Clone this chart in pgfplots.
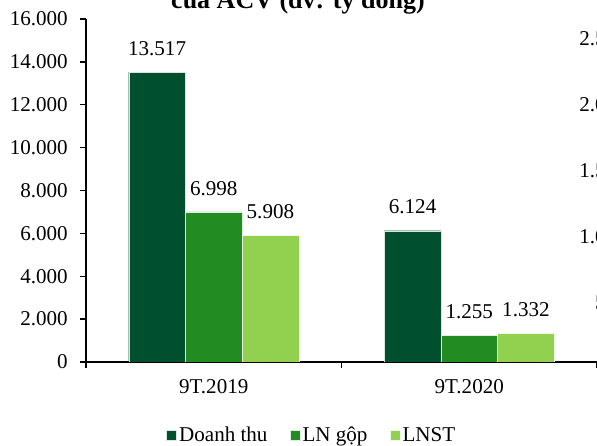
\documentclass[border=0pt]{standalone}
\usepackage{pgfplots}
\pgfplotsset{compat=1.18}
\usepackage{fontspec}
\setmainfont{Liberation Serif}
\definecolor{dt}{HTML}{00502F}
\definecolor{lng}{HTML}{228B22}
\definecolor{lnst}{HTML}{92D050}

\pgfplotsset{
  vnnum/.style={
    /pgf/number format/.cd, 1000 sep={.}, fixed, precision=0, assume math mode=true,
  },
}

\begin{document}
\fontsize{15.8}{19}\selectfont
\begin{tikzpicture}
\path[use as bounding box] (0,0) rectangle (447.75pt,334.5pt);
\clip (0,0) rectangle (447.75pt,334.5pt);

% title (second line)
\node[anchor=base, font=\fontsize{19.5}{23}\selectfont\bfseries, inner sep=0pt]
  at (223.5pt,328pt) {của ACV (đv: tỷ đồng)};

% main bar chart
\begin{axis}[
  at={(64.5pt,63pt)}, anchor=south west,
  scale only axis, width=383.25pt, height=257.25pt,
  vnnum,
  ybar=0pt, bar width=42.5pt,
  xmin=-0.5, xmax=1.5, ymin=0, ymax=16000,
  axis x line*=bottom, axis y line*=left,
  axis line style={line width=1pt},
  scaled y ticks=false,
  ytick={0,2000,...,16000},
  tick align=outside, major tick length=4.5pt,
  tick style={line width=1pt, black},
  yticklabel style={xshift=-3.7pt},
  xtick={-0.5,0.5,1.5}, xticklabels={},
  extra x ticks={0,1}, extra x tick labels={9T.2019,9T.2020},
  extra x tick style={major tick length=0pt, xticklabel style={yshift=-7.5pt}},
  nodes near coords,
  every node near coord/.append style={font=\fontsize{15.8}{19}\selectfont, text=black, yshift=7pt},
  legend columns=3,
  legend style={draw=none, at={(0.4423,-0.2157)}, anchor=center,
    /tikz/every even column/.append style={column sep=14.5pt}},
  legend image code/.code={\fill[#1] (0pt,-3.2pt) rectangle (7.5pt,4.3pt);},
]
\addplot[fill=dt, draw=white!85!dt, line width=0.3pt] coordinates {(0,13517) (1,6124)};
\addplot[fill=lng, draw=white!85!lng, line width=0.3pt] coordinates {(0,6998) (1,1255)};
\addplot[fill=lnst, draw=white!85!lnst, line width=0.3pt] coordinates {(0,5908) (1,1332)};
\legend{Doanh thu, LN gộp, LNST}
\end{axis}

% value axis of the neighbouring chart
\begin{axis}[
  at={(475.5pt,58.5pt)}, anchor=south west,
  scale only axis, width=20pt, height=246.75pt,
  vnnum,
  xmin=0, xmax=1, ymin=0, ymax=2500,
  hide x axis, axis y line*=left,
  y axis line style={draw=none},
  scaled y ticks=false,
  ytick={0,500,...,2500}, major tick length=0pt,
]
\addplot[draw=none] coordinates {(0,0)};
\end{axis}
\end{tikzpicture}
\end{document}
